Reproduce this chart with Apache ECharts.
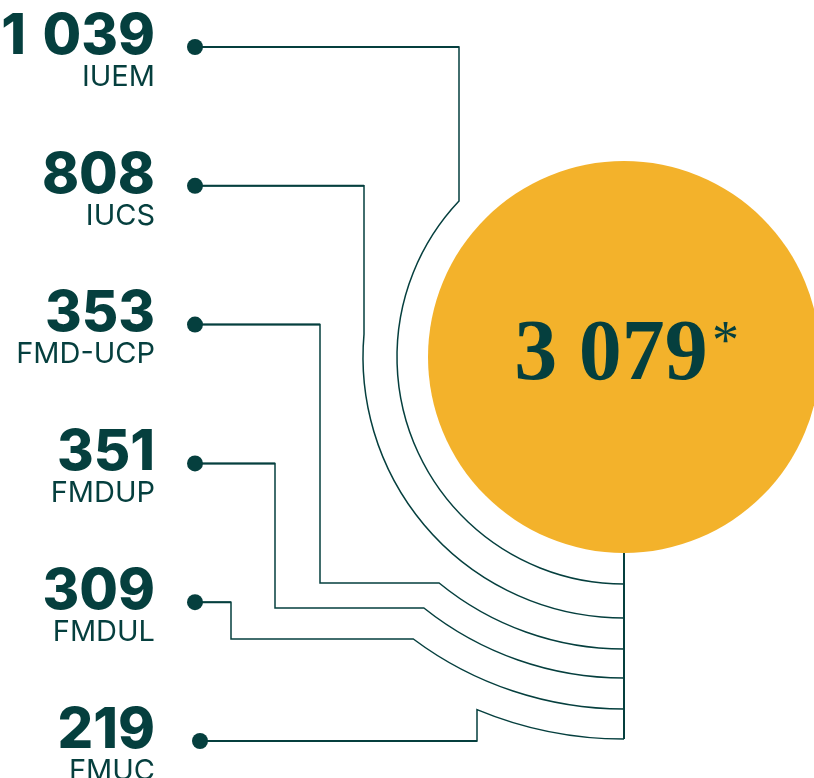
<!DOCTYPE html>
<html><head><meta charset="utf-8">
<script src="https://cdn.jsdelivr.net/npm/echarts@6/dist/echarts.min.js"></script>
<style>html,body{margin:0;padding:0;background:#fff}#c{width:814px;height:778px}</style>
</head><body><div id="c"></div>
<script>
// ---- data ----
const categories = ['IUEM', 'IUCS', 'FMD-UCP', 'FMDUP', 'FMDUL', 'FMUC'];
const values = [1039, 808, 353, 351, 309, 219];
const totalValue = 3079;
const totalNote = '*';

// ---- layout (pixel units on hidden 814x778 axes) ----
const HUB = { cx: 624, cy: 357, r: 196 };
const ROW = { y0: 47, gap: 138.8, textRight: 155 };
const routes = [
  { dotX: 195, kneeX: 459, r: 227 },
  { dotX: 195, kneeX: 364, r: 261 },
  { dotX: 195, kneeX: 320, dropY: 583, r: 292 },
  { dotX: 195, kneeX: 275, dropY: 608, r: 321 },
  { dotX: 195, kneeX: 231, dropY: 639, r: 352 },
  { dotX: 200, kneeX: 477, r: 382 }
];
const INK = '#053F3E';
const GOLD = '#F3B22B';

function fmt(v, sep) { return String(v).replace(/\B(?=(\d{3})+(?!\d))/g, sep); }

function renderRow(params, api) {
  const i = api.value(0);
  const route = routes[i];
  const y = ROW.y0 + ROW.gap * i;
  const P = (x, yy) => api.coord([x, yy]);
  const pts = [[route.dotX, y], [route.kneeX, y]];
  let ex, ey;
  if (route.dropY != null) {
    pts.push([route.kneeX, route.dropY]);
    const dy = route.dropY - HUB.cy;
    ex = HUB.cx - Math.sqrt(route.r * route.r - dy * dy);
    ey = route.dropY;
  } else {
    const dx = route.kneeX - HUB.cx;
    const h = Math.sqrt(route.r * route.r - dx * dx);
    ex = route.kneeX;
    ey = Math.abs(HUB.cy - h - y) < Math.abs(HUB.cy + h - y) ? HUB.cy - h : HUB.cy + h;
  }
  pts.push([ex, ey]);
  const px = pts.map(p => P(p[0], p[1]));
  const end = P(HUB.cx, HUB.cy + route.r);
  const rp = api.size([route.r, 0])[0];
  let d = 'M' + px[0][0] + ' ' + px[0][1];
  for (let k = 1; k < px.length; k++) d += ' L' + px[k][0] + ' ' + px[k][1];
  d += ' A' + rp + ' ' + rp + ' 0 0 0 ' + end[0] + ' ' + end[1];
  const dot = P(route.dotX, y);
  const numPos = P(ROW.textRight, y - 10);
  const namePos = P(ROW.textRight, y + 30);
  return {
    type: 'group',
    children: [
      { type: 'path', shape: { pathData: d }, style: { fill: 'none', stroke: INK, lineWidth: 1.5 } },
      { type: 'line', shape: { x1: dot[0], y1: dot[1], x2: px[1][0], y2: px[1][1] }, style: { stroke: INK, lineWidth: 2 } },
      { type: 'circle', shape: { cx: dot[0], cy: dot[1], r: api.size([8, 0])[0] }, style: { fill: INK } },
      { type: 'text', style: { text: fmt(api.value(1), ' \u200A'), x: numPos[0], y: numPos[1], align: 'right', verticalAlign: 'middle', fontFamily: 'Inter', fontWeight: 800, fontSize: 56, fill: INK } },
      { type: 'text', style: { text: categories[i], x: namePos[0], y: namePos[1], align: 'right', verticalAlign: 'middle', fontFamily: 'Inter', fontWeight: 400, fontSize: 29, fill: INK } }
    ]
  };
}

function renderHub(params, api) {
  const c = api.coord([HUB.cx, HUB.cy]);
  const r = api.size([HUB.r, 0])[0];
  const maxR = Math.max.apply(null, routes.map(t => t.r));
  const top = api.coord([HUB.cx, HUB.cy + HUB.r]);
  const bot = api.coord([HUB.cx, HUB.cy + maxR]);
  const mainPos = api.coord([HUB.cx - 13, HUB.cy]);
  const notePos = api.coord([HUB.cx + 88, HUB.cy - 40]);
  return {
    type: 'group',
    children: [
      { type: 'line', shape: { x1: top[0], y1: top[1], x2: bot[0], y2: bot[1] }, style: { stroke: INK, lineWidth: 2 } },
      { type: 'circle', shape: { cx: c[0], cy: c[1], r: r }, style: { fill: GOLD } },
      { type: 'text', style: { text: fmt(api.value(0), ' '), x: mainPos[0], y: mainPos[1], align: 'center', verticalAlign: 'middle', fontFamily: 'Liberation Serif', fontWeight: 'bold', fontSize: 86, fill: INK } },
      { type: 'text', style: { text: totalNote, x: notePos[0], y: notePos[1], align: 'left', verticalAlign: 'top', fontFamily: 'Liberation Serif', fontWeight: 'normal', fontSize: 54, fill: INK } }
    ]
  };
}

const chart = echarts.init(document.getElementById('c'));
chart.setOption({
  animation: false,
  backgroundColor: '#ffffff',
  grid: { left: 0, right: 0, top: 0, bottom: 0 },
  xAxis: { type: 'value', min: 0, max: 814, show: false },
  yAxis: { type: 'value', min: 0, max: 778, inverse: true, show: false },
  series: [
    { type: 'custom', clip: false, renderItem: renderRow, data: categories.map((c, i) => [i, values[i]]) },
    { type: 'custom', clip: false, renderItem: renderHub, data: [[totalValue]] }
  ]
});
</script>
</body></html>
